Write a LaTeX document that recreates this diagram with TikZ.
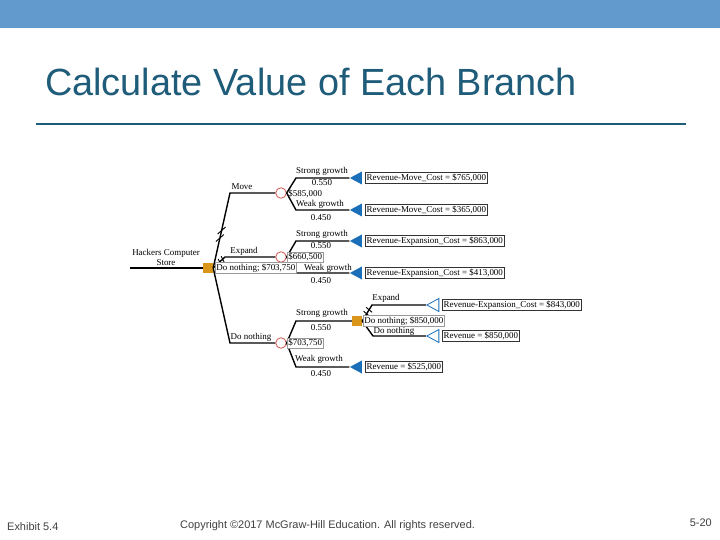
\documentclass[tikz,border=0pt]{standalone}
\usepackage{fontspec}
\setmainfont{Liberation Serif}
\newfontfamily\slidefont{Liberation Sans}
\usetikzlibrary{calc}
\usetikzlibrary{shapes}

\definecolor{barblue}{HTML}{639ACD}
\definecolor{titleteal}{HTML}{1F5C7A}
\definecolor{decorange}{HTML}{D9961A}
\definecolor{leafblue}{HTML}{1A6FB8}
\definecolor{chancered}{HTML}{D9534F}

\tikzset{
  decision/.style={rectangle,fill=decorange,minimum size=10bp,inner sep=0pt},
  chance/.style={circle,draw=chancered,fill=white,line width=0.8bp,minimum size=10.5bp,inner sep=0pt},
  leaf/.style={isosceles triangle,isosceles triangle stretches,shape border rotate=180,
    fill=leafblue,minimum width=13bp,minimum height=12bp,inner sep=0pt},
  openleaf/.style={leaf,fill=white,draw=leafblue,line width=0.8bp},
  branch/.style={line width=1.4bp},
  prune/.style={line width=0.9bp},
  lbl/.style={font=\fontsize{9}{10}\selectfont,inner sep=0pt},
  payoff/.style={lbl,draw=black!80,line width=0.5bp,fill=white,inner sep=1.4bp,anchor=west},
  ev/.style={lbl,draw=black!40,line width=0.5bp,fill=white,inner sep=1.2bp,anchor=west},
  footer/.style={font=\slidefont\fontsize{11}{12}\selectfont,text=black!75,inner sep=0pt},
}

\begin{document}
\begin{tikzpicture}[x=1bp,y=-1bp]
  \useasboundingbox (0,0) rectangle (720,540);
  % slide frame
  \fill[barblue] (0,0) rectangle (720,28);
  \draw[] (45,82) node[anchor=west,inner sep=0pt,text=titleteal,
    font=\slidefont\fontsize{38}{40}\selectfont] (Title) {Calculate Value of Each Branch};
  \draw[titleteal,line width=2bp] (36,124) -- (686,124);

  % decision and chance nodes
  \coordinate (Start) at (130,268);
  \draw[] (208,268) node[decision] (Dec) {};
  \draw[] (281,193) node[chance] (Cm) {};
  \draw[] (281,257) node[chance] (Ce) {};
  \draw[] (281,343) node[chance] (Cd) {};
  \draw[] (357,321) node[decision] (Dec2) {};
  % end nodes
  \draw[] (358,178) node[leaf] (TmS) {};
  \draw[] (358,210) node[leaf] (TmW) {};
  \draw[] (358,241) node[leaf] (TeS) {};
  \draw[] (358,273) node[leaf] (TeW) {};
  \draw[] (358,367) node[leaf] (TdW) {};
  \draw[] (435,305) node[openleaf] (ToE) {};
  \draw[] (435,336) node[openleaf] (ToN) {};
  % corners
  \coordinate (Mv) at (230,193);
  \coordinate (Ex) at (225,257);
  \coordinate (Dn) at (230,343);
  \coordinate (MvS) at (296,178);
  \coordinate (MvW) at (296,210);
  \coordinate (ExS) at (296,241);
  \coordinate (ExW) at (296,273);
  \coordinate (DnS) at (296,321);
  \coordinate (DnW) at (296,367);
  \coordinate (E2) at (372,305);
  \coordinate (N2) at (373,336);

  % branches
  \draw[branch] (Start) -- (Dec);
  \draw[branch] (Dec.east) -- (Mv) -- (Cm);
  \draw[branch] (Dec.east) -- (Ex) -- (Ce);
  \draw[branch] (Dec.east) -- (Dn) -- (Cd);
  \draw[branch] (Cm.east) -- (MvS) -- (TmS);
  \draw[branch] (Cm.east) -- (MvW) -- (TmW);
  \draw[branch] (Ce.east) -- (ExS) -- (TeS);
  \draw[branch] (Ce.east) -- (ExW) -- (TeW);
  \draw[branch] (Cd.east) -- (DnS) -- (Dec2);
  \draw[branch] (Cd.east) -- (DnW) -- (TdW);
  \draw[branch] (Dec2.east) -- (E2) -- (ToE);
  \draw[branch] (Dec2.east) -- (N2) -- (ToN);

  % pruned branches
  \draw[prune] ($(Dec.east)!0.40!(Mv)$) ++(-4,3.5) -- ++(8,-7);
  \draw[prune] ($(Dec.east)!0.50!(Mv)$) ++(-4,3.5) -- ++(8,-7);
  \draw[prune] ($(Dec.east)!0.55!(Ex)$) ++(-1.5,-3) -- ++(3,6);
  \draw[prune] ($(Dec.east)!0.80!(Ex)$) ++(-1.5,-3) -- ++(3,6);
  \draw[prune] ($(Dec2.east)!0.45!(E2)$) ++(-3,-2.5) -- ++(6,5);
  \draw[prune] ($(Dec2.east)!0.70!(E2)$) ++(-3,-2.5) -- ++(6,5);

  % branch labels
  \draw[] (166,257.5) node[lbl,align=center] (Store) {Hackers Computer\\Store};
  \draw[] (242,187) node[lbl] (LMove) {Move};
  \draw[] (244,251) node[lbl] (LExp) {Expand};
  \draw[] (251,337) node[lbl] (LDn) {Do nothing};
  \draw[] (322,171) node[lbl] (LmS) {Strong growth};
  \draw[] (322,183) node[lbl] (PmS) {0.550};
  \draw[] (320,204) node[lbl] (LmW) {Weak growth};
  \draw[] (321,217.5) node[lbl] (PmW) {0.450};
  \draw[] (322,234) node[lbl] (LeS) {Strong growth};
  \draw[] (321,246) node[lbl] (PeS) {0.550};
  \draw[] (328,268) node[lbl] (LeW) {Weak growth};
  \draw[] (321,281) node[lbl] (PeW) {0.450};
  \draw[] (322,313.5) node[lbl] (LdS) {Strong growth};
  \draw[] (321,328) node[lbl] (PdS) {0.550};
  \draw[] (319,359) node[lbl] (LdW) {Weak growth};
  \draw[] (321,373.5) node[lbl] (PdW) {0.450};
  \draw[] (386,298) node[lbl] (LE2) {Expand};
  \draw[] (394,331) node[lbl] (LN2) {Do nothing};

  % expected values
  \draw[] (287,194) node[ev,draw=none,fill=none] (EVm) {\$585,000};
  \draw[] (287,257) node[ev] (EVe) {\$660,500};
  \draw[] (215,268) node[ev] (EVdec) {Do nothing; \$703,750};
  \draw[] (287,343) node[ev] (EVd) {\$703,750};
  \draw[] (363,321) node[ev] (EVdec2) {Do nothing; \$850,000};

  % payoffs
  \draw[] (365,178) node[payoff] (Pay1) {Revenue-Move\_Cost = \$765,000};
  \draw[] (365,210) node[payoff] (Pay2) {Revenue-Move\_Cost = \$365,000};
  \draw[] (365,241) node[payoff] (Pay3) {Revenue-Expansion\_Cost = \$863,000};
  \draw[] (365,273) node[payoff] (Pay4) {Revenue-Expansion\_Cost = \$413,000};
  \draw[] (442,305) node[payoff] (Pay5) {Revenue-Expansion\_Cost = \$843,000};
  \draw[] (442,336) node[payoff] (Pay6) {Revenue = \$850,000};
  \draw[] (365,367) node[payoff] (Pay7) {Revenue = \$525,000};

  % footer
  \draw[] (7,527) node[footer,anchor=west] (Exh) {Exhibit 5.4};
  \draw[] (180,526) node[footer,anchor=west] (Copy) {Copyright ©2017 McGraw-Hill Education. All rights reserved.};
  \draw[] (712,523) node[footer,anchor=east] (Page) {5-20};
\end{tikzpicture}
\end{document}
